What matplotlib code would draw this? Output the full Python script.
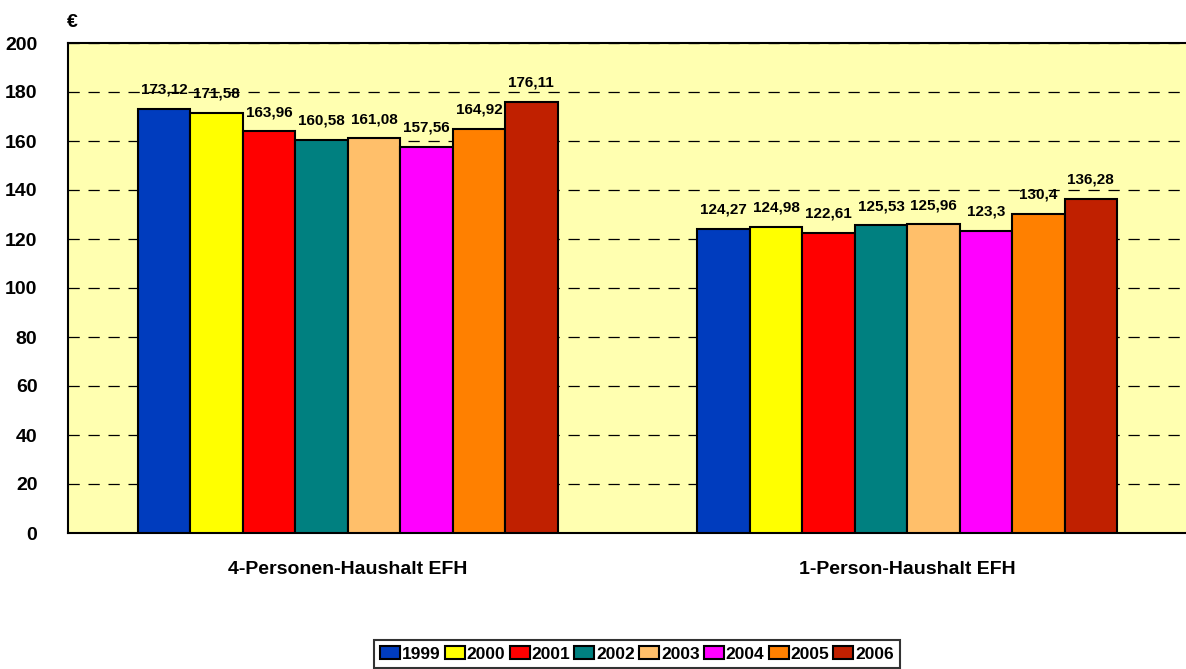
import numpy as np
import matplotlib
matplotlib.use("Agg")
import matplotlib.pyplot as plt

plt.rcParams['font.family'] = ['Liberation Sans', 'DejaVu Sans']
plt.rcParams['font.weight'] = 'bold'

# daten
kategorien = ["4-Personen-Haushalt EFH", "1-Person-Haushalt EFH"]
jahre = ["1999", "2000", "2001", "2002", "2003", "2004", "2005", "2006"]
werte_4p = [173.12, 171.58, 163.96, 160.58, 161.08, 157.56, 164.92, 176.11]
werte_1p = [124.27, 124.98, 122.61, 125.53, 125.96, 123.3, 130.4, 136.28]
farben = ["#003CBE", "#FFFF00", "#FF0000", "#008080",
          "#FFBF6A", "#FF00FF", "#FF8000", "#C02000"]

def fmt(v):
    s = f"{v:.2f}".rstrip("0").rstrip(".")
    return s.replace(".", ",")

fig = plt.figure(figsize=(11.86, 6.69), dpi=100)
ax = fig.add_axes([68/1186, 1 - 533/669, 1119/1186, 490/669])
ax.set_facecolor("#FFFFB0")

x = np.arange(len(kategorien))
n = len(jahre)
breite = 0.75 / n

for i, jahr in enumerate(jahre):
    vals = [werte_4p[i], werte_1p[i]]
    pos = x - 0.375 + breite * (i + 0.5)
    bars = ax.bar(pos, vals, breite, color=farben[i], edgecolor="black",
                  linewidth=1.5, label=jahr, zorder=3)
    for b, v in zip(bars, vals):
        ax.text(b.get_x() + b.get_width() / 2, v + 5, fmt(v), ha="center",
                va="bottom", fontsize=11, fontweight="bold", zorder=4)

ax.set_xlim(-0.5, 1.5)
ax.set_ylim(0, 200)
ax.set_yticks(np.arange(0, 201, 20))
ax.yaxis.grid(True, linestyle=(0, (9, 7)), color="black", linewidth=0.9)
ax.set_axisbelow(True)
ax.tick_params(axis="y", length=0, labelsize=14, pad=22)
ax.tick_params(axis="x", length=0, labelsize=14, pad=20)
ax.set_xticks(x)
ax.set_xticklabels(kategorien, fontweight="bold")
for lbl in ax.get_yticklabels():
    lbl.set_fontweight("bold")
for s in ["top", "left", "bottom"]:
    ax.spines[s].set_linewidth(1.5)
ax.spines["right"].set_visible(False)

ax.text(0.004, 1.042, "€", transform=ax.transAxes, fontsize=14,
        fontweight="bold", ha="center", va="center")

leg = fig.legend(loc="lower center", bbox_to_anchor=(637/1186, 0.002), ncol=8,
                 frameon=True, fancybox=False, edgecolor="black",
                 handlelength=1.15, handleheight=0.85,
                 handletextpad=0.1, columnspacing=0.25, borderpad=0.35,
                 borderaxespad=0.0, prop={"weight": "bold", "size": 12.5})
leg.get_frame().set_linewidth(1.5)

fig.savefig("out.png", dpi=100)
